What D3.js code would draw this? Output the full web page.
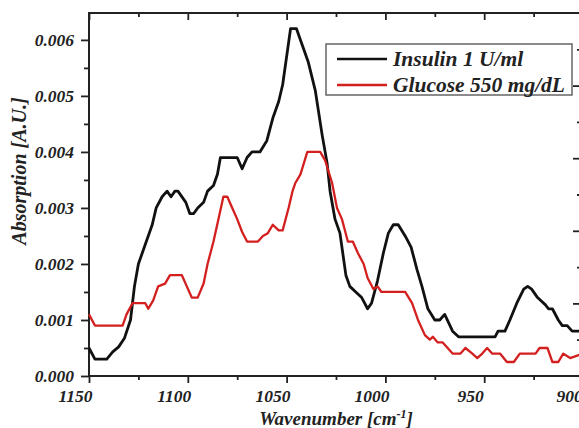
<!DOCTYPE html>
<html>
<head>
<meta charset="utf-8">
<script src="https://cdn.jsdelivr.net/npm/d3@7"></script>
<style>
  body { margin: 0; background: #fff; }
  text { font-family: "Liberation Serif", "Times New Roman", serif; font-weight: bold; font-style: italic; fill: #222; }
</style>
</head>
<body>
<div id="chart"></div>
<script>
// Insulin 1 U/ml (black)
const insulinWn = [1150, 1147, 1141, 1138, 1135, 1132, 1129, 1127, 1125, 1123, 1121, 1118, 1116, 1113, 1110.5, 1108.5, 1106.5, 1105, 1101, 1099, 1097, 1095, 1092, 1090, 1087, 1085, 1083.5, 1075, 1072.5, 1070, 1067.5, 1063.5, 1060, 1057, 1054, 1052, 1050, 1048, 1045, 1042, 1039, 1035.5, 1032, 1029.5, 1028, 1025.5, 1023, 1020, 1018, 1015, 1012, 1009, 1007, 1004, 1001, 998.5, 996, 993.5, 990, 987, 984, 981.5, 978.5, 975, 972.5, 970, 966, 963, 944.5, 943, 939.5, 937, 933.5, 930, 928, 926, 923, 919, 917.5, 915.5, 912.5, 910.5, 908, 905.5, 900];
const insulinAbs = [0.0005, 0.0003, 0.0003, 0.00043, 0.00052, 0.00068, 0.001, 0.0016, 0.002, 0.0022, 0.0024, 0.0027, 0.003, 0.0032, 0.0033, 0.0032, 0.0033, 0.0033, 0.0031, 0.0029, 0.0029, 0.003, 0.0031, 0.0033, 0.0034, 0.0036, 0.0039, 0.0039, 0.0037, 0.0039, 0.004, 0.004, 0.0042, 0.0046, 0.0049, 0.0052, 0.0057, 0.0062, 0.0062, 0.0059, 0.0056, 0.0051, 0.0043, 0.0038, 0.0033, 0.0028, 0.00255, 0.0018, 0.0016, 0.0015, 0.0014, 0.0012, 0.0013, 0.0017, 0.0022, 0.00255, 0.0027, 0.0027, 0.0025, 0.0023, 0.0019, 0.0016, 0.0012, 0.001, 0.001, 0.0011, 0.0008, 0.0007, 0.0007, 0.0008, 0.0008, 0.001, 0.0013, 0.00155, 0.0016, 0.00155, 0.0014, 0.00127, 0.0012, 0.0012, 0.001, 0.0009, 0.0009, 0.0008, 0.0008];

// Glucose 550 mg/dL (red)
const glucoseWn = [1150, 1147, 1133, 1131, 1128, 1121.5, 1120, 1117.5, 1115, 1111.5, 1109, 1103, 1100.5, 1098, 1095, 1092, 1090, 1087, 1084.5, 1082, 1080, 1077.5, 1075, 1072.5, 1070, 1064.5, 1062, 1059.5, 1057, 1054, 1052, 1049, 1047, 1045.5, 1043, 1039.5, 1033, 1030.5, 1027, 1024.5, 1022, 1019, 1016.5, 1014, 1011, 1009, 1006, 1004, 1002, 990, 986.5, 983.5, 980, 977.5, 976, 973.5, 971, 968.5, 966, 962, 959.5, 956, 953.5, 951, 948.5, 946, 942, 938.5, 935, 932, 924, 922, 918, 915.5, 912.5, 910, 906.5, 900];
const glucoseAbs = [0.0011, 0.0009, 0.0009, 0.0011, 0.0013, 0.0013, 0.0012, 0.00135, 0.0016, 0.00165, 0.0018, 0.0018, 0.0016, 0.0014, 0.0014, 0.00165, 0.002, 0.0024, 0.0028, 0.0032, 0.0032, 0.003, 0.0028, 0.00257, 0.0024, 0.0024, 0.0025, 0.00255, 0.0027, 0.0026, 0.0026, 0.003, 0.0033, 0.00345, 0.0036, 0.004, 0.004, 0.00385, 0.00345, 0.003, 0.0028, 0.0024, 0.0024, 0.0022, 0.002, 0.00175, 0.00155, 0.0016, 0.0015, 0.0015, 0.0013, 0.001, 0.00073, 0.00065, 0.0007, 0.0006, 0.0006, 0.0005, 0.0004, 0.0004, 0.0005, 0.0004, 0.00032, 0.0004, 0.0005, 0.0004, 0.0004, 0.00025, 0.00025, 0.0004, 0.0004, 0.0005, 0.0005, 0.00025, 0.00025, 0.0004, 0.00032, 0.0004];

const xTicks = [1150, 1100, 1050, 1000, 950, 900];
const xMinorTicks = [1125, 1075, 1025, 975, 925];
const yTicks = [0, 0.001, 0.002, 0.003, 0.004, 0.005, 0.006];
const yMinorTicks = [0.0005, 0.0015, 0.0025, 0.0035, 0.0045, 0.0055];
const legendLabels = ['Insulin 1 U/ml', 'Glucose 550 mg/dL'];
const colors = ['#111', '#d41f1f'];

const W = 579, H = 428;
const x = d3.scaleLinear().domain([1150, 900]).range([89, 583]);
const y = d3.scaleLinear().domain([0, 0.00648]).range([376, 13]);
// the right frame carries its own tick spacing in the source figure
const yRight = d3.scaleLinear().domain([0, 5]).range([376, 13]);

const svg = d3.select('#chart').append('svg')
  .attr('width', W).attr('height', H);

const axisStyle = g => {
  g.select('.domain').remove();
  g.selectAll('line').attr('stroke', '#222').attr('stroke-width', 1.8);
  g.selectAll('text').attr('font-size', 17.5).attr('fill', '#222');
};

// left axis
svg.append('g').attr('transform', `translate(${x.range()[0]},0)`)
  .call(d3.axisLeft(y).tickValues(yTicks).tickSize(8).tickPadding(7).tickFormat(d3.format('.3f')))
  .call(axisStyle);
svg.append('g').attr('transform', `translate(${x.range()[0]},0)`)
  .call(d3.axisLeft(y).tickValues(yMinorTicks).tickSize(5).tickFormat(''))
  .call(axisStyle);

// bottom axis (labels sit a bit left of their ticks in the source)
svg.append('g').attr('transform', `translate(0,${y.range()[0]})`)
  .call(d3.axisBottom(x).tickValues(xTicks).tickSize(7).tickPadding(7).tickFormat(d3.format('d')))
  .call(axisStyle)
  .call(g => g.selectAll('text').attr('dx', -14));
svg.append('g').attr('transform', `translate(0,${y.range()[0]})`)
  .call(d3.axisBottom(x).tickValues(xMinorTicks).tickSize(4).tickFormat(''))
  .call(axisStyle);

// top axis, ticks inward
svg.append('g').attr('transform', `translate(0,${y.range()[1]})`)
  .call(d3.axisTop(x).tickValues(xTicks).tickSize(-7).tickFormat(''))
  .call(axisStyle);
svg.append('g').attr('transform', `translate(0,${y.range()[1]})`)
  .call(d3.axisTop(x).tickValues(xMinorTicks).tickSize(-4).tickFormat(''))
  .call(axisStyle);

// right axis, ticks inward
svg.append('g').attr('transform', `translate(${x.range()[1]},0)`)
  .call(d3.axisRight(yRight).tickValues(d3.range(1, 5)).tickSize(-10).tickFormat(''))
  .call(axisStyle);
svg.append('g').attr('transform', `translate(${x.range()[1]},0)`)
  .call(d3.axisRight(yRight).tickValues(d3.range(0.5, 5, 1)).tickSize(-6).tickFormat(''))
  .call(axisStyle);

// frame
svg.append('rect')
  .attr('x', x.range()[0]).attr('y', y.range()[1])
  .attr('width', x.range()[1] - x.range()[0])
  .attr('height', y.range()[0] - y.range()[1])
  .attr('fill', 'none').attr('stroke', '#222').attr('stroke-width', 2);

// curves
const line = d3.line().x(d => x(d[0])).y(d => y(d[1]));
const series = [
  d3.zip(insulinWn, insulinAbs),
  d3.zip(glucoseWn, glucoseAbs)
];
svg.selectAll('.curve')
  .data(series)
  .join('path')
  .attr('class', 'curve')
  .attr('d', line)
  .attr('fill', 'none')
  .attr('stroke', (d, i) => colors[i])
  .attr('stroke-width', (d, i) => i === 0 ? 2.8 : 2.3)
  .attr('stroke-linejoin', 'round');

// legend
const leg = svg.append('g');
leg.append('rect')
  .attr('x', 326).attr('y', 44).attr('width', 246).attr('height', 51)
  .attr('fill', '#fff').attr('stroke', '#666').attr('stroke-width', 1.5);
legendLabels.forEach((lab, i) => {
  const ly = 59 + i * 26;
  leg.append('line')
    .attr('x1', 337).attr('x2', 387).attr('y1', ly).attr('y2', ly)
    .attr('stroke', colors[i]).attr('stroke-width', 2.6);
  leg.append('text')
    .attr('x', 393).attr('y', ly + 7)
    .attr('font-size', 21.5)
    .text(lab);
});

// axis titles
svg.append('text')
  .attr('transform', 'translate(26,171) rotate(-90)')
  .attr('text-anchor', 'middle')
  .attr('font-size', 20)
  .text('Absorption [A.U.]');

const xt = svg.append('text')
  .attr('x', 336).attr('y', 425)
  .attr('text-anchor', 'middle')
  .attr('font-size', 19);
xt.append('tspan').text('Wavenumber [cm');
xt.append('tspan').attr('dy', -7).attr('font-size', 12).text('-1');
xt.append('tspan').attr('dy', 7).text(']');
</script>
</body>
</html>
